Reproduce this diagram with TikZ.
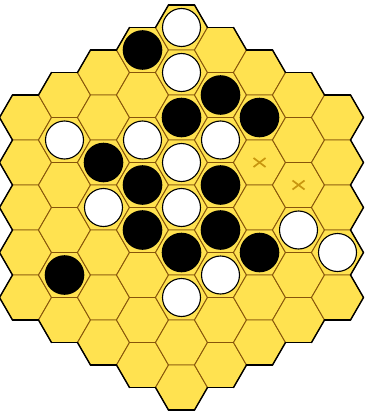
\documentclass[tikz,border=0pt]{standalone}
\definecolor{boardyellow}{RGB}{255,226,80}
\definecolor{gridbrown}{RGB}{135,85,10}
\definecolor{markgold}{RGB}{200,150,15}
\begin{document}
\begin{tikzpicture}[x=1pt,y=-1pt,
  hexcell/.style={fill=boardyellow, draw=gridbrown, line width=0.9pt, line join=round},
  rim/.style={draw=black, line width=1.4pt, line cap=round},
  blackstone/.style={fill=black},
  whitestone/.style={fill=white, draw=black, line width=1.1pt},
  xmark/.style={draw=markgold, line width=1.7pt}]
\useasboundingbox (0,0) rectangle (371,412);
\def\R{26}
\def\H{22.5}
% board cells
\foreach \q in {-4,...,4}{
  \pgfmathtruncatemacro\rmin{max(-4,-\q-4)}
  \pgfmathtruncatemacro\rmax{min(4,4-\q)}
  \foreach \r in {\rmin,...,\rmax}{
    \pgfmathsetmacro\cx{181.5+39*\q}
    \pgfmathsetmacro\cy{207.5+45*(\r+\q/2)}
    \draw[hexcell] (\cx+\R,\cy) -- (\cx+\R/2,\cy-\H) -- (\cx-\R/2,\cy-\H)
      -- (\cx-\R,\cy) -- (\cx-\R/2,\cy+\H) -- (\cx+\R/2,\cy+\H) -- cycle;
  }
}
% outer rim
\foreach \q in {-4,...,4}{
  \pgfmathtruncatemacro\rmin{max(-4,-\q-4)}
  \pgfmathtruncatemacro\rmax{min(4,4-\q)}
  \foreach \r in {\rmin,...,\rmax}{
    \pgfmathsetmacro\cx{181.5+39*\q}
    \pgfmathsetmacro\cy{207.5+45*(\r+\q/2)}
    \foreach \dq/\dr/\a in {1/-1/0, 0/-1/1, -1/0/2, -1/1/3, 0/1/4, 1/0/5}{
      \pgfmathtruncatemacro\nq{\q+\dq}
      \pgfmathtruncatemacro\nr{\r+\dr}
      \pgfmathtruncatemacro\nd{max(abs(\nq),abs(\nr),abs(\nq+\nr))}
      \ifnum\nd>4
        \pgfmathsetmacro\ax{\cx+\R*cos(60*\a)}
        \pgfmathsetmacro\ay{\cy-\R*sin(60*\a)}
        \pgfmathsetmacro\bx{\cx+\R*cos(60*\a+60)}
        \pgfmathsetmacro\by{\cy-\R*sin(60*\a+60)}
        \draw[rim] (\ax,\ay) -- (\bx,\by);
      \fi
    }
  }
}
% stones
\foreach \q/\k in {0/-4, 0/-3, -3/-1.5, -1/-1.5, 1/-1.5, 0/-1, -2/0, 0/0, 3/0.5, 4/1, 1/1.5, 0/2}{
  \draw[whitestone] (181.5+39*\q, 207.5+45*\k) circle[radius=19];
}
\foreach \q/\k in {-1/-3.5, 1/-2.5, 0/-2, 2/-2, -2/-1, -1/-0.5, 1/-0.5, -1/0.5, 1/0.5, 0/1, 2/1, -3/1.5}{
  \fill[blackstone] (181.5+39*\q, 207.5+45*\k) circle[radius=19.8];
}
% marks
\foreach \q/\k in {2/-1, 3/-0.5}{
  \draw[xmark] (181.5+39*\q-6, 207.5+45*\k-4.5) -- (181.5+39*\q+6, 207.5+45*\k+4.5);
  \draw[xmark] (181.5+39*\q-6, 207.5+45*\k+4.5) -- (181.5+39*\q+6, 207.5+45*\k-4.5);
}
\end{tikzpicture}
\end{document}
